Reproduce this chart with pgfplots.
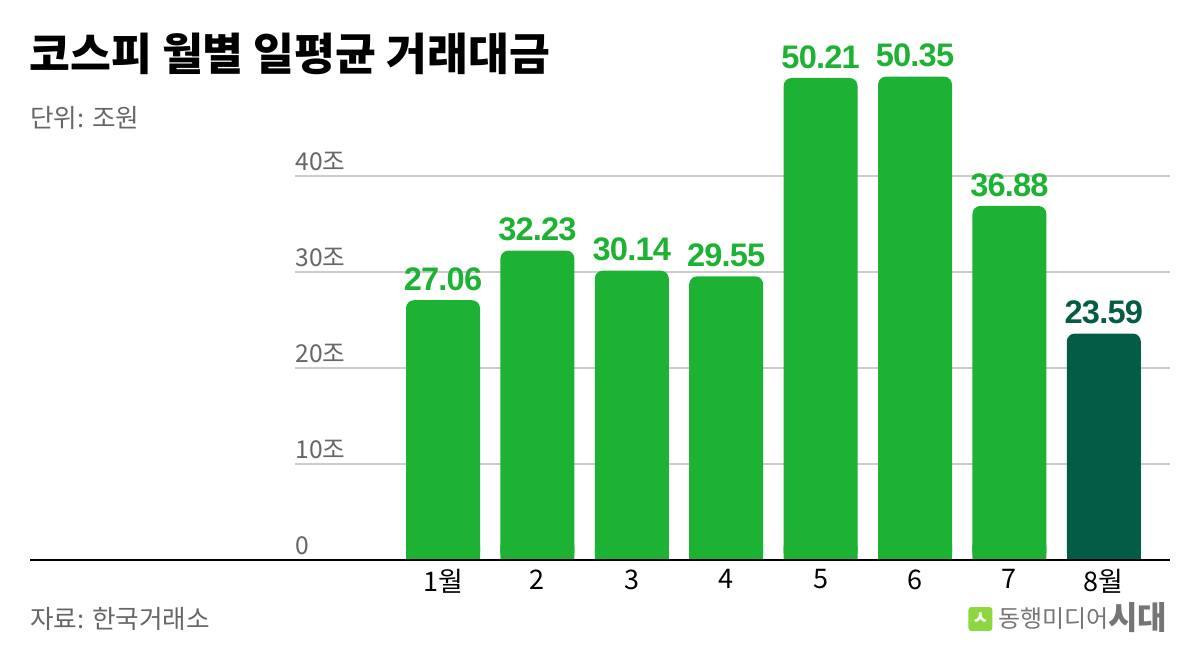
\documentclass[border=0pt]{standalone}
\usepackage{fontspec}
\setmainfont{Noto Sans CJK KR}
\newfontfamily\numfont{Liberation Sans}[LetterSpace=-2.5]
\newfontfamily\titlefont{Noto Sans CJK KR Black}
\usepackage{pgfplots}
\pgfplotsset{compat=1.18}
\definecolor{bargreen}{HTML}{1DB233}
\definecolor{bardark}{HTML}{035C45}
\definecolor{txtgray}{HTML}{666666}
\definecolor{gridgray}{HTML}{CCCCCC}
\definecolor{logogreen}{HTML}{8CD63F}
\begin{document}
\begin{tikzpicture}[x=1pt,y=1pt]
\path[use as bounding box] (0pt,0pt) rectangle (600pt,330pt);
\begin{axis}[
  at={(147.5pt,50pt)}, anchor=south west,
  scale only axis, width=437.5pt, height=264pt,
  xmin=-1.568, xmax=7.701, ymin=0, ymax=55,
  axis line style={draw=none}, tick style={draw=none}, major tick length=0pt,
  ymajorgrids, grid style={gridgray, line width=0.6pt},
  ytick={0,10,20,30,40}, yticklabels={0,10조,20조,30조,40조},
  yticklabel style={anchor=south west, inner sep=0pt, yshift=2.5pt, font=\fontsize{12.3}{13}\selectfont, text=txtgray},
  xtick={0,...,7}, xticklabels={1월,2,3,4,5,6,7,8월},
  xticklabel style={anchor=north, inner sep=0pt, yshift=-4.5pt, font=\fontsize{13.5}{14}\selectfont, text=black},
  ybar, bar width=37pt, clip=false,
  point meta=explicit symbolic,
  nodes near coords style={anchor=south, inner sep=0pt, yshift=4.5pt, font=\numfont\bfseries\fontsize{16.3}{17}\selectfont},
]
\addplot[bar shift=0pt, fill=bargreen, draw=none] coordinates {(0,1.5) (1,1.5) (2,1.5) (3,1.5) (4,1.5) (5,1.5) (6,1.5)};
\addplot[bar shift=0pt, fill=bardark, draw=none] coordinates {(7,1.5)};
\addplot[bar shift=0pt, fill=bargreen, draw=none, rounded corners=4pt,
  nodes near coords, nodes near coords style={text=bargreen}]
  coordinates {(0,27.06)[27.06] (1,32.23)[32.23] (2,30.14)[30.14] (3,29.55)[29.55] (4,50.21)[50.21] (5,50.35)[50.35] (6,36.88)[36.88]};
\addplot[bar shift=0pt, fill=bardark, draw=none, rounded corners=4pt,
  nodes near coords, nodes near coords style={text=bardark}]
  coordinates {(7,23.59)[23.59]};
\draw[black, line width=0.9pt] (axis cs:-4.375,0) -- (axis cs:7.701,0);
\end{axis}
\node[anchor=west, inner sep=0pt, font=\titlefont\fontsize{22.2}{23}\selectfont] at (14.5pt,303pt) {코스피 월별 일평균 거래대금};
\node[anchor=west, inner sep=0pt, text=txtgray, font=\fontsize{12.8}{13}\selectfont] at (15pt,271pt) {단위: 조원};
\node[anchor=west, inner sep=0pt, text=txtgray, font=\fontsize{12.8}{13}\selectfont] at (15pt,20.5pt) {자료: 한국거래소};
\node[anchor=west, inner sep=0pt, minimum size=12pt, fill=logogreen, rounded corners=1.5pt, text=white, font=\bfseries\fontsize{9}{9}\selectfont] at (484pt,20.5pt) {ㅅ};
\node[anchor=west, inner sep=0pt, text=txtgray!90, font=\fontsize{12}{12}\selectfont] at (499pt,20.5pt) {동행미디어};
\node[anchor=west, inner sep=0pt, text=txtgray!90, font=\bfseries\fontsize{16}{16}\selectfont] at (554pt,21pt) {시대};
\end{tikzpicture}
\end{document}
